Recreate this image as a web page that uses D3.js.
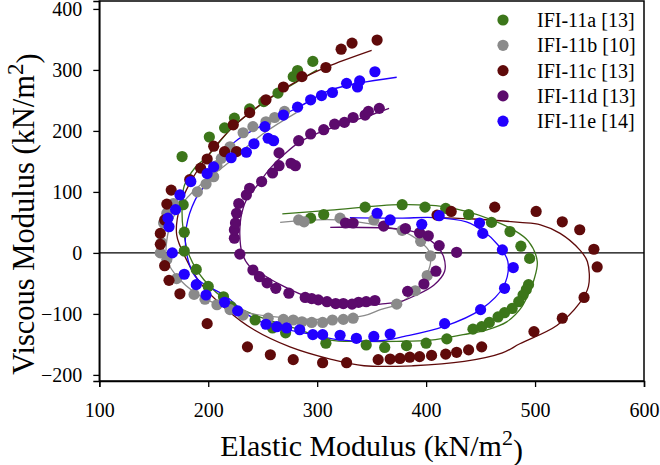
<!DOCTYPE html>
<html>
<head>
<meta charset="utf-8">
<script src="https://cdn.jsdelivr.net/npm/d3@7"></script>
<style>
  body { margin: 0; background: #fff; }
  svg { display: block; }
  text { font-family: "Liberation Serif", "Times New Roman", serif; fill: #000; }
</style>
</head>
<body>
<div id="chart"></div>
<script>
// series names + colours
const seriesNames = ["IFI-11a [13]", "IFI-11b [10]", "IFI-11c [13]", "IFI-11d [13]", "IFI-11e [14]"];
const seriesColors = ["#3c761a", "#8a8a8a", "#5f0a0a", "#5c0a6c", "#2200ff"];

const xTicks = [100, 200, 300, 400, 500, 600];
const yTicks = [-200, -100, 0, 100, 200, 300, 400];

// measured points [elastic, viscous]
const ifi11aPts = [[294,57],[306,63],[344,75],[378,79],[399,75],[418,73],[439,63],[460,50],[477,35],[487,11],[495,-9],[494,-52],[492,-60],[489,-69],[485,-80],[479,-91],[472,-98],[466,-105],[458,-114],[451,-121],[443,-125],[419,-141],[400,-148],[382,-152],[362,-155],[345,-151],[308,-148],[271,-131],[259,-123],[243,-110],[221,-88],[214,-72],[200,-55],[189,-27],[178,3],[178,34],[177,79],[176,158],[201,190],[215,205],[224,221],[238,236],[251,248],[264,262],[278,289],[282,299],[296,314]];
const ifi11bPts = [[283,54],[288,51],[321,57],[352,54],[378,37],[395,19],[404,-5],[401,-37],[390,-62],[373,-84],[333,-107],[324,-109],[314,-110],[305,-114],[295,-114],[286,-113],[278,-110],[269,-109],[255,-107],[232,-102],[220,-93],[208,-85],[197,-76],[187,-68],[171,-42],[162,-11],[156,0],[157,17],[159,49],[162,65],[168,81],[190,100],[198,113],[205,125],[208,143],[212,155],[220,174],[232,197],[241,207],[253,215],[261,222],[270,232]];
const ifi11cPts = [[355,349],[332,344],[322,334],[308,304],[286,289],[269,272],[253,251],[238,230],[223,210],[226,166],[215,166],[205,175],[199,154],[193,139],[183,120],[166,103],[162,80],[160,54],[156,32],[156,14],[160,-21],[164,-45],[174,-67],[199,-116],[236,-154],[257,-167],[278,-175],[305,-180],[327,-180],[356,-175],[367,-174],[376,-173],[385,-171],[394,-170],[405,-168],[418,-166],[428,-163],[439,-159],[451,-154],[499,-129],[525,-107],[545,-73],[557,-23],[554,6],[541,38],[525,51],[501,68],[463,75],[423,68],[410,62]];
const ifi11dPts = [[326,49],[333,49],[361,44],[381,40],[394,33],[402,28],[412,12],[428,1],[409,-30],[398,-51],[383,-63],[353,-78],[345,-80],[338,-81],[332,-84],[324,-83],[317,-83],[309,-80],[301,-77],[295,-75],[289,-73],[274,-66],[262,-58],[254,-49],[247,-39],[241,-28],[229,-2],[224,24],[224,38],[225,49],[226,65],[228,81],[235,95],[238,106],[249,117],[259,131],[265,143],[280,143],[276,147],[265,164],[283,184],[294,195],[306,202],[316,211],[325,214],[333,222],[344,226],[347,232],[357,237]];
const ifi11ePts = [[355,65],[367,54],[396,47],[412,61],[449,49],[452,32],[470,5],[480,-24],[472,-58],[450,-93],[417,-116],[367,-133],[352,-137],[336,-140],[321,-135],[305,-134],[296,-134],[284,-126],[272,-123],[263,-121],[253,-117],[227,-95],[215,-81],[198,-69],[189,-52],[178,-35],[167,0],[164,43],[163,57],[170,71],[174,95],[184,117],[199,130],[205,141],[221,156],[235,165],[242,179],[255,188],[260,184],[252,207],[269,226],[282,239],[294,251],[304,258],[314,263],[327,278],[337,272],[339,282],[353,297]];

// fitted curves
const ifi11aFit = [[268,64],[312,70],[376,79],[416,76],[437,68],[459,55],[480,38],[494,19],[502,-14],[499,-44],[496,-58],[488,-88],[474,-113],[456,-126],[434,-134],[404,-143],[373,-145],[343,-145],[312,-143],[284,-126],[246,-104],[220,-82],[196,-44],[183,-6],[177,38],[176,76],[178,110],[188,140],[200,160],[223,207],[254,250],[284,283],[300,300]];
const ifi11bFit = [[266,50],[320,54],[379,35],[395,18],[403,2],[404,-17],[399,-41],[391,-61],[373,-85],[358,-93],[343,-103],[312,-109],[270,-106],[238,-99],[199,-77],[174,-44],[162,-11],[162,21],[167,55],[178,85],[195,115],[220,150],[250,195],[281,230]];
const ifi11cFit = [[408,58],[440,56],[486,50],[505,46],[523,32],[541,5],[548,-14],[549,-55],[541,-82],[520,-119],[486,-149],[470,-164],[435,-178],[388,-185],[343,-185],[312,-174],[275,-154],[242,-126],[217,-93],[193,-50],[180,-11],[171,30],[174,76],[183,114],[199,158],[223,207],[254,251],[284,284],[309,305],[350,332]];
const ifi11dFit = [[312,42],[381,38],[395,30],[410,11],[416,-6],[417,-30],[407,-53],[391,-69],[376,-80],[358,-84],[333,-87],[310,-82],[288,-70],[264,-50],[248,-33],[238,-22],[231,0],[229,30],[230,58],[235,87],[246,113],[257,139],[270,162],[284,182],[300,196],[318,208],[349,226],[366,237]];
const ifi11eFit = [[330,58],[376,57],[407,58],[437,51],[453,35],[466,13],[475,-14],[471,-55],[450,-93],[416,-121],[380,-137],[358,-144],[318,-142],[290,-132],[257,-119],[235,-100],[217,-72],[189,-41],[180,0],[180,43],[188,87],[200,118],[223,180],[254,213],[284,240],[312,267],[373,288]];

const allPts = [ifi11aPts, ifi11bPts, ifi11cPts, ifi11dPts, ifi11ePts];
const allFits = [ifi11aFit, ifi11bFit, ifi11cFit, ifi11dFit, ifi11eFit];

const width = 660, height = 465;
const plot = { left: 99.3, right: 644, top: 1, bottom: 381 };

const svg = d3.select("#chart").append("svg")
    .attr("width", width)
    .attr("height", height);

const x = d3.scaleLinear().domain([100, 600]).range([plot.left, plot.right]);
const y = d3.scaleLinear().domain([-210, 413]).range([plot.bottom, plot.top]);

// frame
svg.append("rect")
    .attr("x", plot.left).attr("y", plot.top)
    .attr("width", plot.right - plot.left)
    .attr("height", plot.bottom - plot.top)
    .attr("fill", "none").attr("stroke", "#000").attr("stroke-width", 1.5);

// zero line
svg.append("line")
    .attr("x1", plot.left).attr("x2", plot.right)
    .attr("y1", y(0)).attr("y2", y(0))
    .attr("stroke", "#000").attr("stroke-width", 1.2);

// axes
const xAxis = svg.append("g")
    .attr("transform", `translate(0,${plot.bottom})`)
    .call(d3.axisBottom(x).tickValues(xTicks).tickSize(6).tickPadding(16));
const yAxis = svg.append("g")
    .attr("transform", `translate(${plot.left},0)`)
    .call(d3.axisLeft(y).tickValues(yTicks).tickSize(6).tickPadding(11));

[xAxis, yAxis].forEach(g => {
    g.select(".domain").attr("stroke-width", 1.5);
    g.selectAll(".tick line").attr("stroke-width", 1.3);
    g.selectAll(".tick text")
        .style("font-family", '"Liberation Serif", "Times New Roman", serif')
        .style("font-size", "20px")
        .attr("fill", "#000");
});
yAxis.selectAll(".tick text").attr("dy", "0.34em");

// fitted lines
const lineGen = d3.line()
    .x(d => x(d[0]))
    .y(d => y(d[1]))
    .curve(d3.curveCatmullRom.alpha(0.5));

allFits.forEach((fit, i) => {
    svg.append("path")
        .datum(fit)
        .attr("d", lineGen)
        .attr("fill", "none")
        .attr("stroke", seriesColors[i])
        .attr("stroke-width", 1.3);
});

// points
allPts.forEach((pts, i) => {
    svg.append("g").selectAll("circle")
        .data(pts)
        .enter().append("circle")
        .attr("cx", d => x(d[0]))
        .attr("cy", d => y(d[1]))
        .attr("r", 5.6)
        .attr("fill", seriesColors[i]);
});

// legend
const legend = svg.append("g").attr("transform", "translate(503,20)");
seriesNames.forEach((name, i) => {
    const row = legend.append("g").attr("transform", `translate(0,${i * 25.3})`);
    row.append("circle").attr("r", 5.6).attr("fill", seriesColors[i]);
    row.append("text")
        .attr("x", 34).attr("y", 7)
        .style("font-size", "20px")
        .text(name);
});

// axis titles
const xTitle = svg.append("text")
    .attr("x", (plot.left + plot.right) / 2)
    .attr("y", 456)
    .attr("text-anchor", "middle")
    .style("font-size", "30px");
xTitle.append("tspan").text("Elastic Modulus (kN/m");
xTitle.append("tspan").attr("dy", "-0.5em").style("font-size", "22px").text("2");
xTitle.append("tspan").attr("dy", "0.5em").text(")");

const yTitle = svg.append("text")
    .attr("transform", `translate(34,${(plot.top + plot.bottom) / 2 + 23}) rotate(-90)`)
    .attr("text-anchor", "middle")
    .style("font-size", "30.5px");
yTitle.append("tspan").text("Viscous Modulus (kN/m");
yTitle.append("tspan").attr("dy", "-0.5em").style("font-size", "23px").text("2");
yTitle.append("tspan").attr("dy", "0.5em").text(")");
</script>
</body>
</html>
